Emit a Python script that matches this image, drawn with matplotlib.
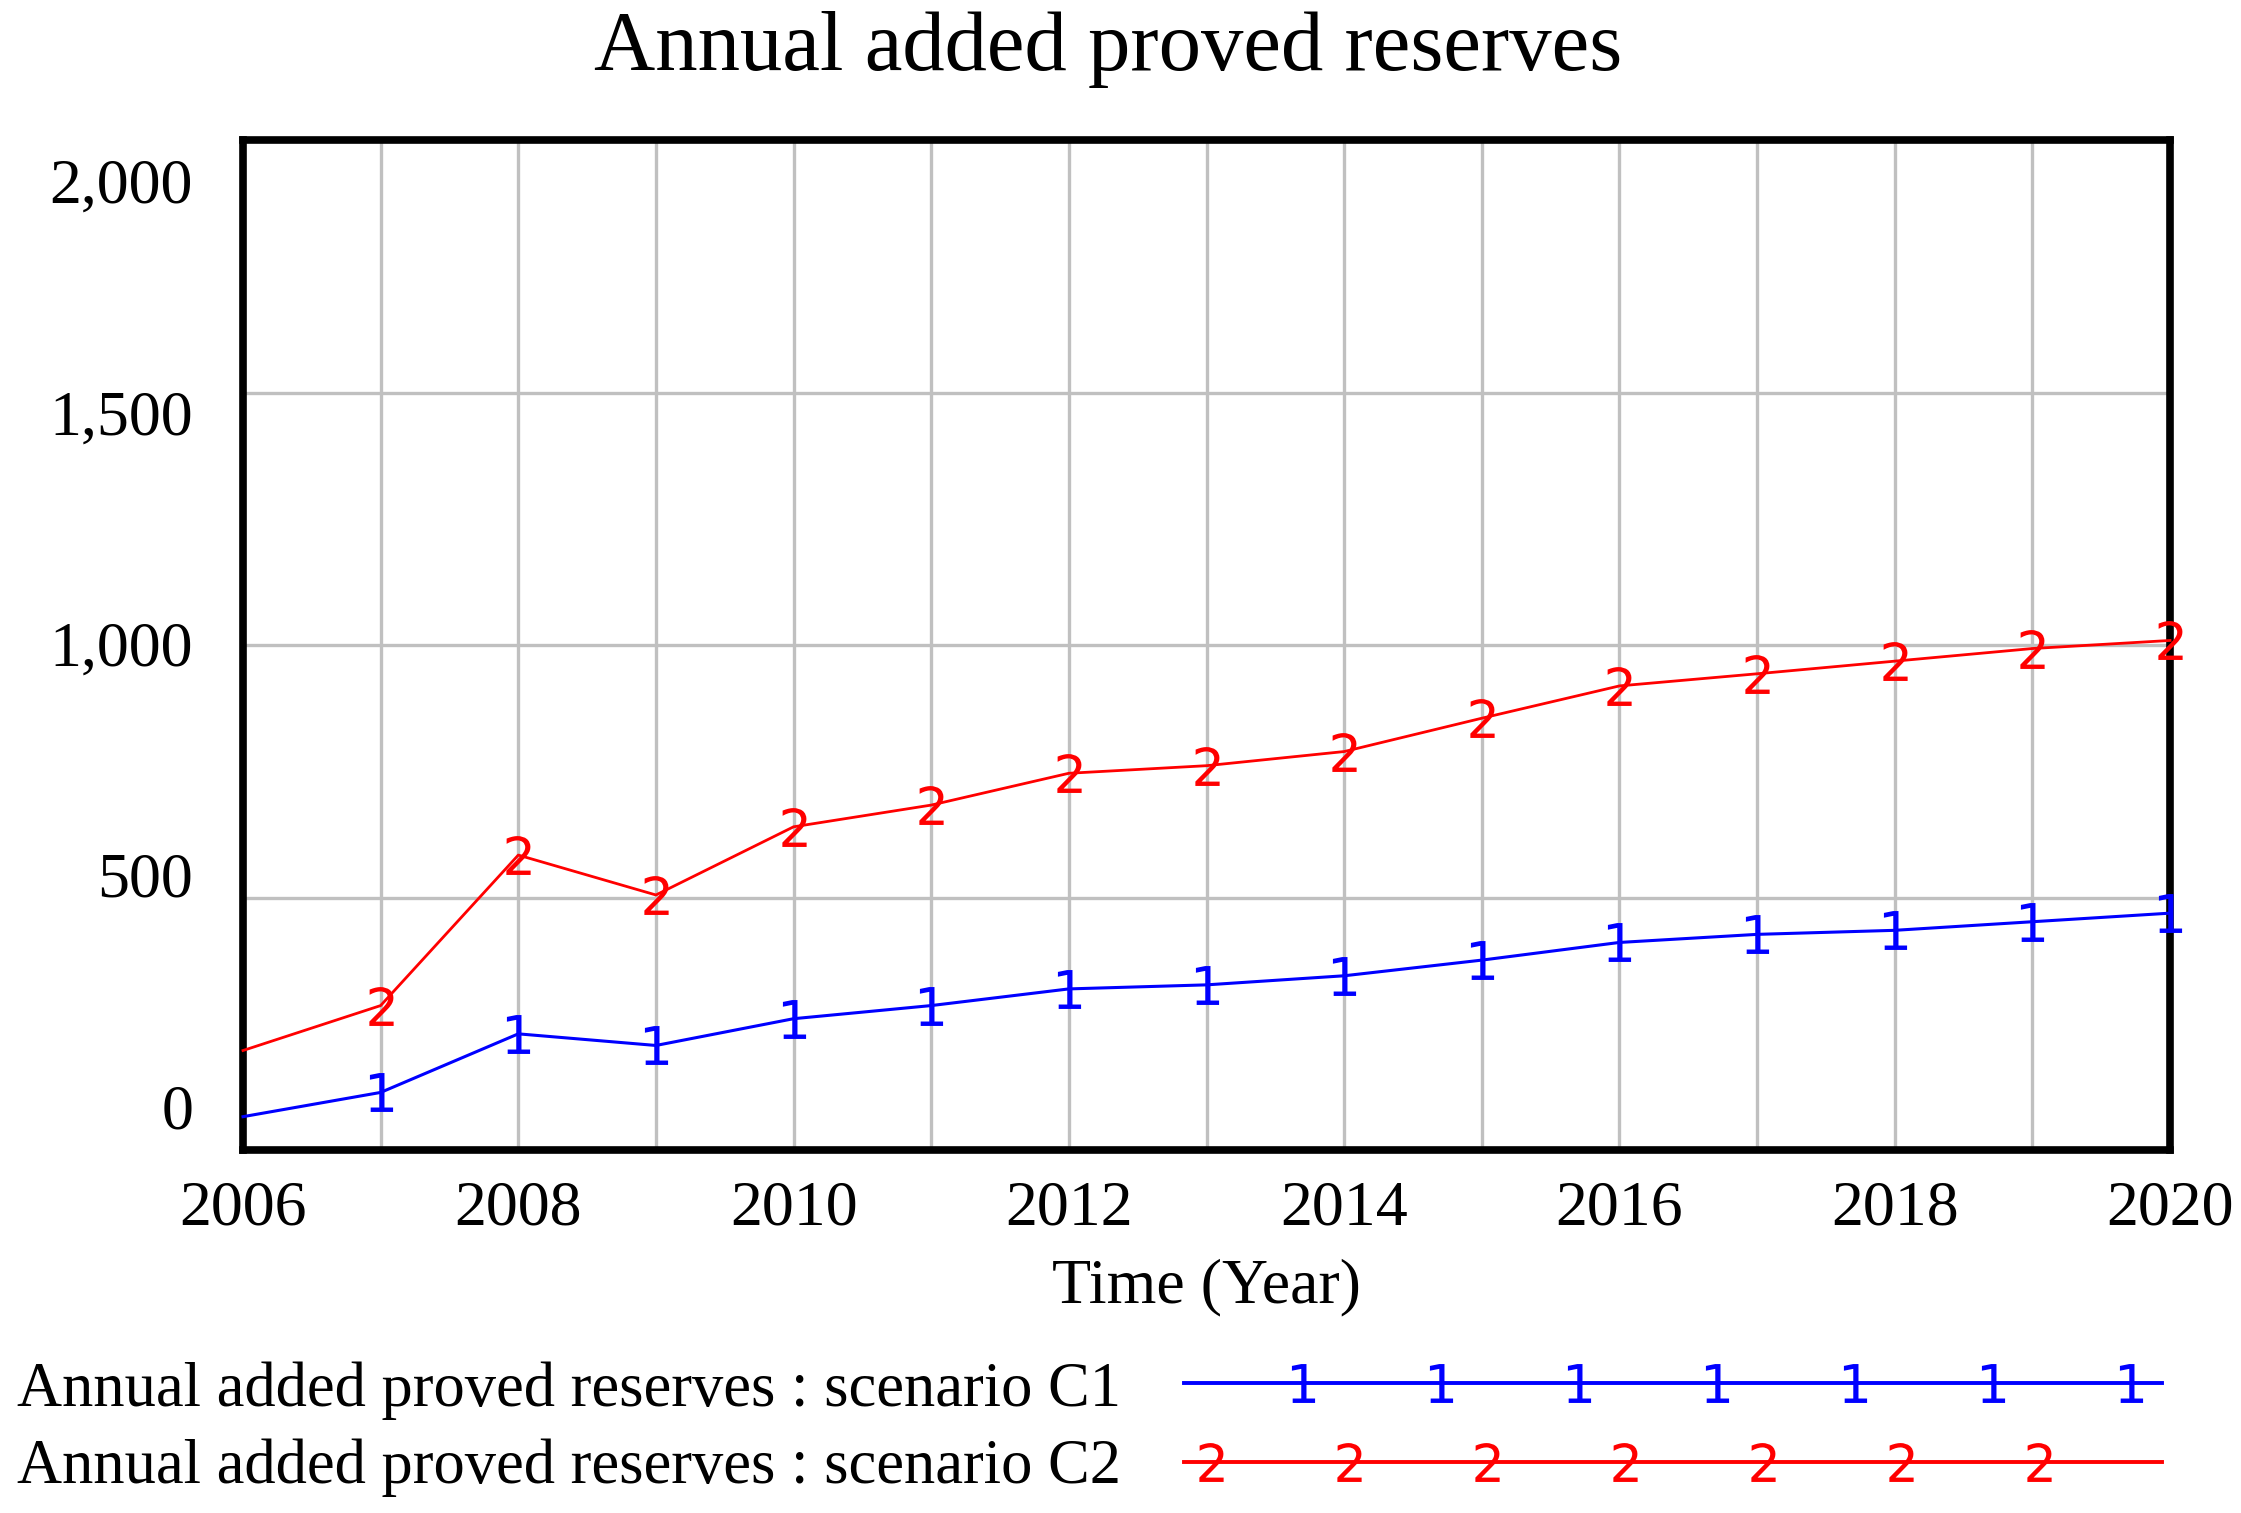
import numpy as np
import matplotlib
matplotlib.use("Agg")
import matplotlib.pyplot as plt
from matplotlib.lines import Line2D

# datos
years = [2006, 2007, 2008, 2009, 2010, 2011, 2012, 2013, 2014, 2015, 2016, 2017, 2018, 2019, 2020]
scenario_c1 = [66, 114, 230, 207, 260, 286, 319, 327, 345, 376, 411, 427, 435, 452, 469]
scenario_c2 = [197, 286, 584, 505, 640, 683, 746, 761, 789, 855, 919, 943, 968, 993, 1009]

y_labels = ["0", "500", "1,000", "1,500", "2,000"]
x_labels = ["2006", "2008", "2010", "2012", "2014", "2016", "2018", "2020"]

titulo = "Annual added proved reserves"
nombre_c1 = "Annual added proved reserves : scenario C1"
nombre_c2 = "Annual added proved reserves : scenario C2"

serif = "Liberation Serif"
W, H = 2241, 1513

fig = plt.figure(figsize=(W / 100, H / 100), dpi=100)
ax = fig.add_axes([243 / W, 1 - 1150 / H, (2170 - 243) / W, (1150 - 140) / H])

ax.plot(years, scenario_c1, color="blue", lw=2.2, marker="$1$", markersize=28,
        markeredgewidth=0, markevery=slice(1, None), clip_on=False, zorder=3)
ax.plot(years, scenario_c2, color="red", lw=2.0, marker="$2$", markersize=28,
        markeredgewidth=0, markevery=slice(1, None), clip_on=False, zorder=3)

ax.set_xlim(2006, 2020)
ax.set_ylim(0, 2000)

# rejilla
ax.set_xticks(years[::2])
ax.set_xticklabels(x_labels, family=serif, fontsize=46)
ax.set_xticks(years, minor=True)
ax.set_yticks([500, 1000, 1500])
ax.set_yticklabels([])
ax.grid(True, which="both", axis="x", color="#c0c0c0", lw=2.4)
ax.grid(True, which="major", axis="y", color="#c0c0c0", lw=2.4)
ax.set_axisbelow(True)

# etiquetas del eje y repartidas como en Vensim
span = 2000
lab_pos = 0.0435 * span + np.arange(len(y_labels)) * 0.229 * span
ax.set_yticks(lab_pos, minor=True)
ax.set_yticklabels(y_labels, minor=True, family=serif, fontsize=46)

ax.tick_params(axis="both", which="both", length=0)
ax.tick_params(axis="x", which="major", pad=22)
ax.tick_params(axis="y", which="minor", pad=36)

for s in ax.spines.values():
    s.set_linewidth(5.5)
    s.set_color("black")

fig.text(1108 / W, 1 - 70 / H, titulo, ha="center", va="baseline", fontsize=61, family=serif)
fig.text(1206 / W, 1 - 1302 / H, "Time (Year)", ha="center", va="baseline", fontsize=46, family=serif)

# leyenda
leg = fig.add_axes([0, 0, 1, 1])
leg.set_xlim(0, W)
leg.set_ylim(H, 0)
leg.axis("off")
leg.patch.set_alpha(0)

leg.text(17, 1406, nombre_c1, ha="left", va="baseline", fontsize=45, family=serif)
leg.text(17, 1483, nombre_c2, ha="left", va="baseline", fontsize=45, family=serif)

leg.add_line(Line2D([1184, 2162], [1383, 1383], color="blue", lw=2.8))
leg.add_line(Line2D([1184, 2162], [1462, 1462], color="red", lw=2.8))
mk1 = 1303 + 138 * np.arange(7)
mk2 = 1211 + 138 * np.arange(7)
leg.plot(mk1, [1383] * 7, ls="none", marker="$1$", markersize=28, markeredgewidth=0, color="blue")
leg.plot(mk2, [1462] * 7, ls="none", marker="$2$", markersize=28, markeredgewidth=0, color="red")

fig.savefig("out.png", dpi=100)
